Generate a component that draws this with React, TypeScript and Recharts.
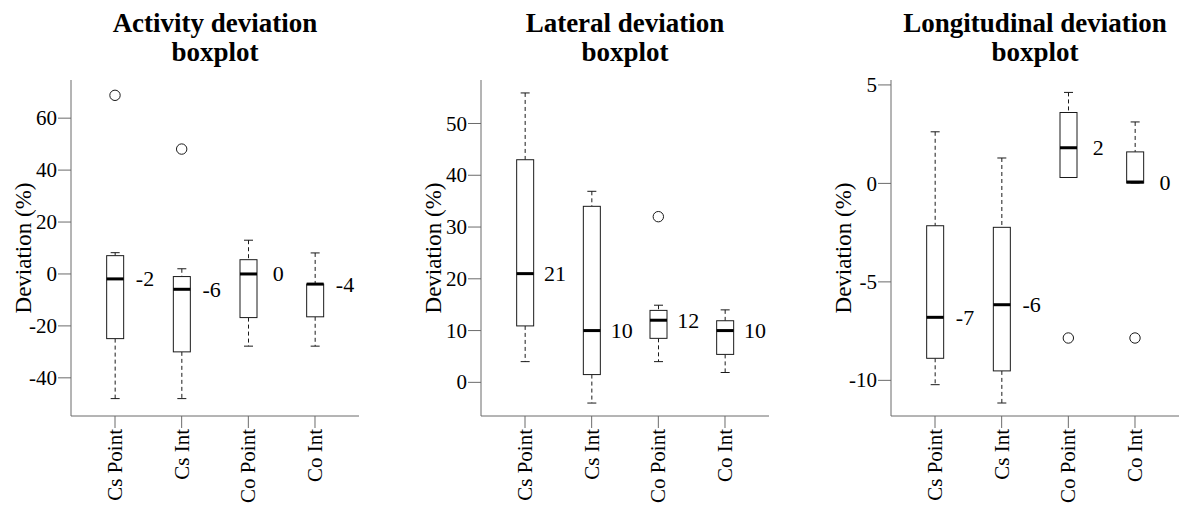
import React from "react";
import {
  ComposedChart,
  Bar,
  Scatter,
  XAxis,
  YAxis,
} from "recharts";

const categories = ["Cs Point", "Cs Int", "Co Point", "Co Int"];

// Activity deviation (%)
const activityLow = [-48, -48, -27.8, -27.8];
const activityQ1 = [-24.9, -30, -16.8, -16.5];
const activityMedian = [-1.9, -5.9, 0, -3.9];
const activityQ3 = [7.05, -1, 5.5, -3.9];
const activityHigh = [8.2, 2, 13, 8.1];
const activityOutliers = [68.8, 48.1, null, null];
const activityTicks = [-40, -20, 0, 20, 40, 60];
const activityRange = [-54.7, 74.7];

// Lateral deviation (%)
const lateralLow = [4, -4, 4, 1.9];
const lateralQ1 = [10.9, 1.5, 8.5, 5.4];
const lateralMedian = [21, 10, 12, 10];
const lateralQ3 = [43, 34, 13.9, 11.9];
const lateralHigh = [55.9, 36.9, 14.9, 14];
const lateralOutliers = [null, null, 32, null];
const lateralTicks = [0, 10, 20, 30, 40, 50];
const lateralRange = [-6.5, 58.4];

// Longitudinal deviation (%)
const longLow = [-10.22, -11.15, 0.3, 0.02];
const longQ1 = [-8.88, -9.52, 0.3, 0.02];
const longMedian = [-6.8, -6.16, 1.81, 0.07];
const longQ3 = [-2.15, -2.23, 3.6, 1.6];
const longHigh = [2.62, 1.29, 4.62, 3.12];
const longOutliers = [null, null, -7.85, -7.85];
const longTicks = [-10, -5, 0, 5];
const longRange = [-11.81, 5.25];

const FONT = "Liberation Serif, serif";
const FRAME = "#6b6b6b";
const INK = "#1a1a1a";

interface Row {
  name: string;
  low: number;
  q1: number;
  median: number;
  q3: number;
  high: number;
  out: number | null;
}

const buildRows = (
  low: number[],
  q1: number[],
  median: number[],
  q3: number[],
  high: number[],
  out: (number | null)[]
): Row[] =>
  categories.map((name, i) => ({
    name,
    low: low[i],
    q1: q1[i],
    median: median[i],
    q3: q3[i],
    high: high[i],
    out: out[i],
  }));

const textStyle = (size: number): React.CSSProperties => ({
  fontFamily: FONT,
  fontSize: size,
  fill: "#000",
});

// box, whiskers and median, positioned from the bar's [low, high] pixel span
const BoxShape = (props: any) => {
  const { x, y, width, height, payload } = props;
  const top = Math.min(y, y + height);
  const h = Math.abs(height);
  const span = payload.high - payload.low;
  const toPx = (v: number) => (span === 0 ? top : top + ((payload.high - v) / span) * h);
  const cx = x + width / 2;
  const cap = 4.5;
  const yHigh = toPx(payload.high);
  const yLow = toPx(payload.low);
  const yQ3 = toPx(payload.q3);
  const yQ1 = toPx(payload.q1);
  const yMed = toPx(payload.median);
  return (
    <g>
      <line x1={cx} x2={cx} y1={yHigh} y2={yQ3} stroke={INK} strokeDasharray="4 3" />
      <line x1={cx} x2={cx} y1={yQ1} y2={yLow} stroke={INK} strokeDasharray="4 3" />
      <line x1={cx - cap} x2={cx + cap} y1={yHigh} y2={yHigh} stroke={INK} />
      <line x1={cx - cap} x2={cx + cap} y1={yLow} y2={yLow} stroke={INK} />
      <rect x={x} y={yQ3} width={width} height={Math.max(yQ1 - yQ3, 0.5)} fill="#fff" stroke={INK} />
      <line x1={x} x2={x + width} y1={yMed} y2={yMed} stroke="#000" strokeWidth={3} />
    </g>
  );
};

const OutlierShape = (props: any) => {
  const { cx, cy, payload } = props;
  if (payload == null || payload.out == null || !Number.isFinite(cy)) return <g />;
  return <circle cx={cx} cy={cy} r={5.2} fill="none" stroke={INK} strokeWidth={1} />;
};

const MedianLabel = (props: any) => {
  const { cx, cy, payload } = props;
  if (!Number.isFinite(cy)) return <g />;
  return (
    <text x={cx + 30} y={cy} dy="0.34em" textAnchor="middle" style={textStyle(22)}>
      {String(Math.round(payload.median))}
    </text>
  );
};

const XTick = (props: any) => {
  const { x, y, payload } = props;
  return (
    <g transform={`translate(${x},${y})`}>
      <text transform="rotate(-90)" textAnchor="end" dy="0.33em" style={textStyle(21)}>
        {payload.value}
      </text>
    </g>
  );
};

const YTick = (props: any) => {
  const { x, y, payload } = props;
  return (
    <text x={x} y={y} dy="0.34em" textAnchor="end" style={textStyle(21)}>
      {payload.value}
    </text>
  );
};

const YTitle = (props: any) => {
  const vb = props.viewBox || {};
  const lx = vb.x + vb.width - 47;
  const ly = vb.y + vb.height / 2;
  return (
    <text
      x={lx}
      y={ly}
      dy="0.3em"
      transform={`rotate(-90 ${lx} ${ly})`}
      textAnchor="middle"
      style={textStyle(23)}
    >
      Deviation (%)
    </text>
  );
};

const CHART_W = 390;
const CHART_H = 508;
const AXIS_W = 71;
const PLOT_TOP = 80;
const PLOT_BOTTOM = 416;
const PAD = 10.67;

interface PanelProps {
  left: number;
  title: string[];
  rows: Row[];
  ticks: number[];
  range: number[];
}

const Panel = ({ left, title, rows, ticks, range }: PanelProps) => (
  <div style={{ position: "absolute", left, top: 0, width: CHART_W, height: CHART_H }}>
    <div
      style={{
        position: "absolute",
        left: AXIS_W - 30,
        top: 9,
        width: 348,
        textAlign: "center",
        fontFamily: FONT,
        fontWeight: "bold",
        fontSize: 27,
        lineHeight: "29px",
        color: "#000",
        whiteSpace: "nowrap",
      }}
    >
      {title.map((t) => (
        <div key={t}>{t}</div>
      ))}
    </div>
    <ComposedChart
      width={CHART_W}
      height={CHART_H}
      data={rows}
      margin={{ top: PLOT_TOP, right: CHART_W - AXIS_W - 288, bottom: 0, left: 0 }}
    >
      <XAxis
        dataKey="name"
        type="category"
        height={CHART_H - PLOT_BOTTOM}
        padding={{ left: PAD, right: PAD }}
        axisLine={{ stroke: FRAME }}
        tickLine={{ stroke: FRAME }}
        tickSize={12}
        tickMargin={1}
        tick={<XTick />}
        interval={0}
      />
      <XAxis
        xAxisId="top"
        dataKey="name"
        orientation="top"
        height={0}
        tick={false}
        tickLine={false}
        axisLine={{ stroke: FRAME }}
      />
      <YAxis
        type="number"
        domain={range}
        ticks={ticks}
        allowDataOverflow
        width={AXIS_W}
        axisLine={{ stroke: FRAME }}
        tickLine={{ stroke: FRAME }}
        tickSize={13}
        tickMargin={1}
        tick={<YTick />}
        label={YTitle}
      />
      <YAxis
        yAxisId="right"
        orientation="right"
        type="number"
        domain={range}
        allowDataOverflow
        width={0}
        tick={false}
        tickLine={false}
        axisLine={{ stroke: FRAME }}
      />
      <Bar
        dataKey={(r: Row) => [r.low, r.high]}
        barSize={17}
        shape={<BoxShape />}
        isAnimationActive={false}
      />
      <Scatter dataKey="median" shape={<MedianLabel />} isAnimationActive={false} />
      <Scatter dataKey="out" shape={<OutlierShape />} isAnimationActive={false} />
    </ComposedChart>
  </div>
);

const App = () => {
  const activityRows = buildRows(activityLow, activityQ1, activityMedian, activityQ3, activityHigh, activityOutliers);
  const lateralRows = buildRows(lateralLow, lateralQ1, lateralMedian, lateralQ3, lateralHigh, lateralOutliers);
  const longRows = buildRows(longLow, longQ1, longMedian, longQ3, longHigh, longOutliers);
  return (
    <div
      style={{
        position: "absolute",
        left: 0,
        top: 0,
        width: 1184,
        height: 508,
        background: "#fff",
        overflow: "hidden",
      }}
    >
      <Panel left={0} title={["Activity deviation", "boxplot"]} rows={activityRows} ticks={activityTicks} range={activityRange} />
      <Panel left={410} title={["Lateral deviation", "boxplot"]} rows={lateralRows} ticks={lateralTicks} range={lateralRange} />
      <Panel left={820} title={["Longitudinal deviation", "boxplot"]} rows={longRows} ticks={longTicks} range={longRange} />
    </div>
  );
};

export default App;
